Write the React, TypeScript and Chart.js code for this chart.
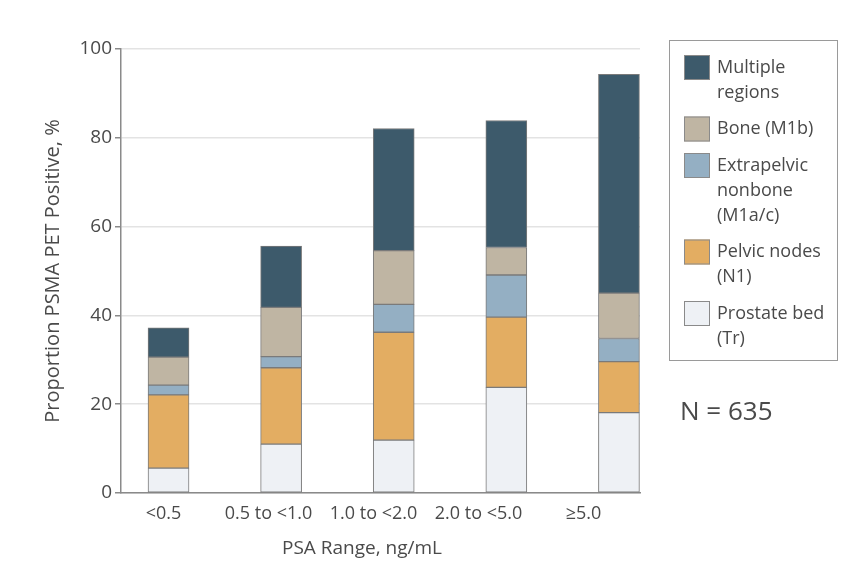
import React, { useEffect, useRef } from 'react';
import { Chart, registerables } from 'chart.js';

Chart.register(...registerables);

const CATEGORIES = ['<0.5', '0.5 to <1.0', '1.0 to <2.0', '2.0 to <5.0', '≥5.0'];
const PROSTATE_BED = [5.6, 11.0, 11.9, 23.8, 18.1];
const PELVIC_NODES = [16.5, 17.2, 24.3, 15.8, 11.5];
const EXTRAPELVIC = [2.2, 2.5, 6.3, 9.5, 5.2];
const BONE = [6.3, 11.1, 12.1, 6.2, 10.2];
const MULTIPLE = [6.6, 13.8, 27.5, 28.6, 49.3];

const SERIES_LABELS = ['Prostate bed (Tr)', 'Pelvic nodes (N1)', 'Extrapelvic nonbone (M1a/c)', 'Bone (M1b)', 'Multiple regions'];
const LEGEND_LINES = [['Prostate bed', '(Tr)'], ['Pelvic nodes', '(N1)'], ['Extrapelvic', 'nonbone', '(M1a/c)'], ['Bone (M1b)'], ['Multiple', 'regions']];
const COLORS = ['#eef1f5', '#e3ad62', '#94afc3', '#bfb5a3', '#3d5a6b'];
const Y_TICKS = [0, 20, 40, 60, 80, 100];
const X_TITLE = 'PSA Range, ng/mL';
const Y_TITLE = 'Proportion PSMA PET Positive, %';
const N_LABEL = 'N = 635';

const FONT = '"Open Sans", sans-serif';
const TEXT = '#4a4a4a';

const overlayPlugin = {
  id: 'overlay',
  afterDraw(chart: any) {
    const ctx = chart.ctx as CanvasRenderingContext2D;
    ctx.save();
    ctx.fillStyle = TEXT;
    ctx.textBaseline = 'middle';
    ctx.textAlign = 'center';
    ctx.font = `19px ${FONT}`;
    ctx.fillText(X_TITLE, 362, 549);

    ctx.strokeStyle = '#9a9a9a';
    ctx.lineWidth = 1;
    ctx.strokeRect(669.5, 40.5, 168, 320);
    let y = 55;
    ctx.textAlign = 'left';
    ctx.font = `18px ${FONT}`;
    for (let k = LEGEND_LINES.length - 1; k >= 0; k--) {
      const lines = LEGEND_LINES[k];
      ctx.fillStyle = COLORS[k];
      ctx.fillRect(684, y, 26, 25);
      ctx.strokeStyle = '#8a8a8a';
      ctx.strokeRect(684.5, y + 0.5, 25, 24);
      ctx.fillStyle = TEXT;
      lines.forEach((ln, j) => ctx.fillText(ln, 717, y + 12.5 + 25 * j));
      y += lines.length * 25 + 11.5;
    }
    ctx.font = `26px ${FONT}`;
    ctx.fillText(N_LABEL, 680, 413);
    ctx.restore();
  },
};

export default function App() {
  const ref = useRef<HTMLCanvasElement | null>(null);
  useEffect(() => {
    if (!ref.current) return;
    const series = [PROSTATE_BED, PELVIC_NODES, EXTRAPELVIC, BONE, MULTIPLE];
    const chart = new Chart(ref.current, {
      type: 'bar',
      data: {
        datasets: series.map((vals, k) => ({
          label: SERIES_LABELS[k],
          data: vals.map((v, i) => ({ x: i, y: v })),
          backgroundColor: COLORS[k],
          borderColor: '#7a7a7a',
          borderWidth: 1,
          borderSkipped: false,
          barThickness: 41,
          xAxisID: 'x',
          yAxisID: 'y',
        })),
      },
      options: {
        animation: false,
        responsive: false,
        layout: { padding: { left: 0, top: 49, right: 224, bottom: 0 } },
        plugins: { legend: { display: false }, tooltip: { enabled: false } },
        scales: {
          x: {
            type: 'linear',
            display: false,
            stacked: true,
            offset: false,
            grid: { offset: false },
            min: -0.422,
            max: 4.187,
          },
          xLabels: {
            type: 'linear',
            position: 'bottom',
            offset: false,
            min: -0.405,
            max: 4.538,
            grid: { display: false, drawTicks: false, offset: false },
            border: { display: true, color: '#8a8a8a', width: 1.5 },
            afterBuildTicks: (s: any) => {
              s.ticks = CATEGORIES.map((_, i) => ({ value: i }));
            },
            afterFit: (s: any) => {
              s.height = 85;
            },
            ticks: {
              autoSkip: false,
              maxRotation: 0,
              padding: 10,
              color: TEXT,
              font: { family: FONT, size: 18 },
              callback: (v: any) => CATEGORIES[v] ?? '',
            },
          },
          y: {
            stacked: true,
            min: 0,
            max: 100,
            afterBuildTicks: (s: any) => {
              s.ticks = Y_TICKS.map((v) => ({ value: v }));
            },
            afterFit: (s: any) => {
              s.width = 121;
            },
            grid: { color: '#e3e3e3', tickColor: '#8a8a8a', tickLength: 6, lineWidth: 1.5 },
            border: { color: '#8a8a8a', width: 1.5 },
            ticks: { padding: 3, color: TEXT, font: { family: FONT, size: 19 } },
            title: {
              display: true,
              text: Y_TITLE,
              color: TEXT,
              font: { family: FONT, size: 20 },
              padding: { top: 41, bottom: 0 },
            },
          },
        },
      },
      plugins: [overlayPlugin],
    } as any);
    return () => chart.destroy();
  }, []);
  return (
    <div style={{ position: 'absolute', left: 0, top: 0, width: 864, height: 578, background: '#fff' }}>
      <canvas ref={ref} width={864} height={578} />
    </div>
  );
}
